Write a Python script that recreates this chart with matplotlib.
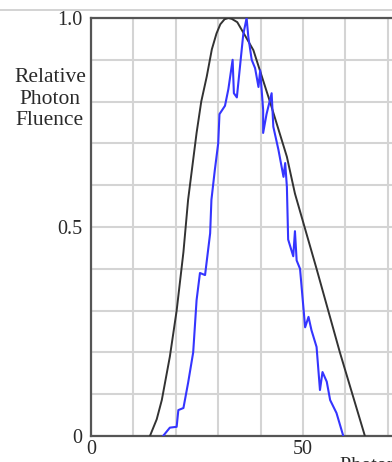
import matplotlib
matplotlib.use('Agg')
import matplotlib.pyplot as plt
from matplotlib.lines import Line2D
from matplotlib.ticker import MultipleLocator, FixedLocator

# Data (energy, relative photon fluence)
calc_energy = [13.9, 15.5, 16.7, 18.6, 20.2, 21.8, 22.9, 24.9, 26.0, 27.3, 28.5, 29.6,
               30.5, 31.5, 32.4, 33.2, 34.5, 36.5, 38.3, 42.2, 46.2, 48.1, 53.2, 58.7, 64.6]
calc_fluence = [0.0, 0.04, 0.086, 0.19, 0.30, 0.44, 0.565, 0.725, 0.80, 0.86, 0.925, 0.963,
                0.985, 0.997, 1.0, 0.998, 0.99, 0.955, 0.923, 0.80, 0.668, 0.58, 0.40, 0.20, 0.0]

meas_energy = [17.0, 18.6, 20.2, 20.6, 21.8, 22.9, 24.1, 24.9, 25.7, 26.9, 28.1, 28.4,
               29.2, 30.0, 30.3, 31.6, 32.4, 33.4, 33.7, 34.4, 35.1, 35.9, 36.7, 37.1,
               37.9, 38.7, 39.5, 39.9, 40.6, 40.6, 41.4, 42.6, 43.0, 44.2, 45.4, 45.8,
               46.2, 46.5, 47.7, 48.1, 48.5, 49.3, 50.5, 51.3, 52.0, 53.2, 54.0, 54.6,
               55.6, 56.4, 57.9, 59.5]
meas_fluence = [0.0, 0.02, 0.022, 0.062, 0.067, 0.127, 0.2, 0.325, 0.39, 0.385, 0.485, 0.565,
                0.636, 0.70, 0.77, 0.79, 0.83, 0.90, 0.82, 0.81, 0.88, 0.96, 1.0, 0.955,
                0.90, 0.88, 0.835, 0.875, 0.78, 0.725, 0.77, 0.82, 0.74, 0.685, 0.62, 0.653,
                0.596, 0.47, 0.43, 0.49, 0.42, 0.40, 0.26, 0.285, 0.253, 0.213, 0.11, 0.153,
                0.13, 0.086, 0.055, 0.0]

y_ticks = [0, 0.5, 1.0]
y_tick_labels = ['0', '0.5', '1.0']
x_ticks = [0, 50]
x_tick_labels = ['0', '50']

plt.rcParams['font.family'] = ['Liberation Serif', 'DejaVu Serif']

W, H = 392, 462
fig = plt.figure(figsize=(W / 100, H / 100), dpi=100)
x_max = 75
ax = fig.add_axes([91 / W, 26 / H, x_max * 4.24 / W, 418 / H])

ax.plot(calc_energy, calc_fluence, color='#333333', lw=1.4, zorder=3)
ax.plot(meas_energy, meas_fluence, color='#3535ff', lw=1.5, zorder=4)

ax.set_xlim(0, x_max)
ax.set_ylim(0, 1.0)
ax.xaxis.set_minor_locator(MultipleLocator(10))
ax.yaxis.set_minor_locator(MultipleLocator(0.1))
ax.xaxis.set_major_locator(FixedLocator(x_ticks))
ax.yaxis.set_major_locator(FixedLocator(y_ticks))
ax.set_xticklabels(x_tick_labels)
ax.set_yticklabels(y_tick_labels)
ax.grid(which='both', color='#d4d4d4', lw=1.5, zorder=0)
ax.tick_params(which='both', length=0, labelsize=14.5, labelcolor='#2a2a2a')
ax.tick_params(axis='y', pad=6)
ax.tick_params(axis='x', pad=3)

for side in ['left', 'top', 'bottom']:
    ax.spines[side].set_color('#555555')
    ax.spines[side].set_linewidth(1.6)
ax.spines['right'].set_visible(False)

# thin border line above the plot
fig.add_artist(Line2D([0.0, 1.0], [(H - 9.5) / H] * 2, color='#cccccc', lw=1.2))

fig.text(50 / W, (H - 99) / H, 'Relative\nPhoton\nFluence', ha='center', va='center',
         multialignment='center', fontsize=15.5, color='#2a2a2a', linespacing=1.15)
fig.text(340 / W, (H - 457) / H, 'Photon Energy', ha='left', va='top',
         fontsize=14.5, color='#2a2a2a')

fig.savefig('out.png', dpi=100)
